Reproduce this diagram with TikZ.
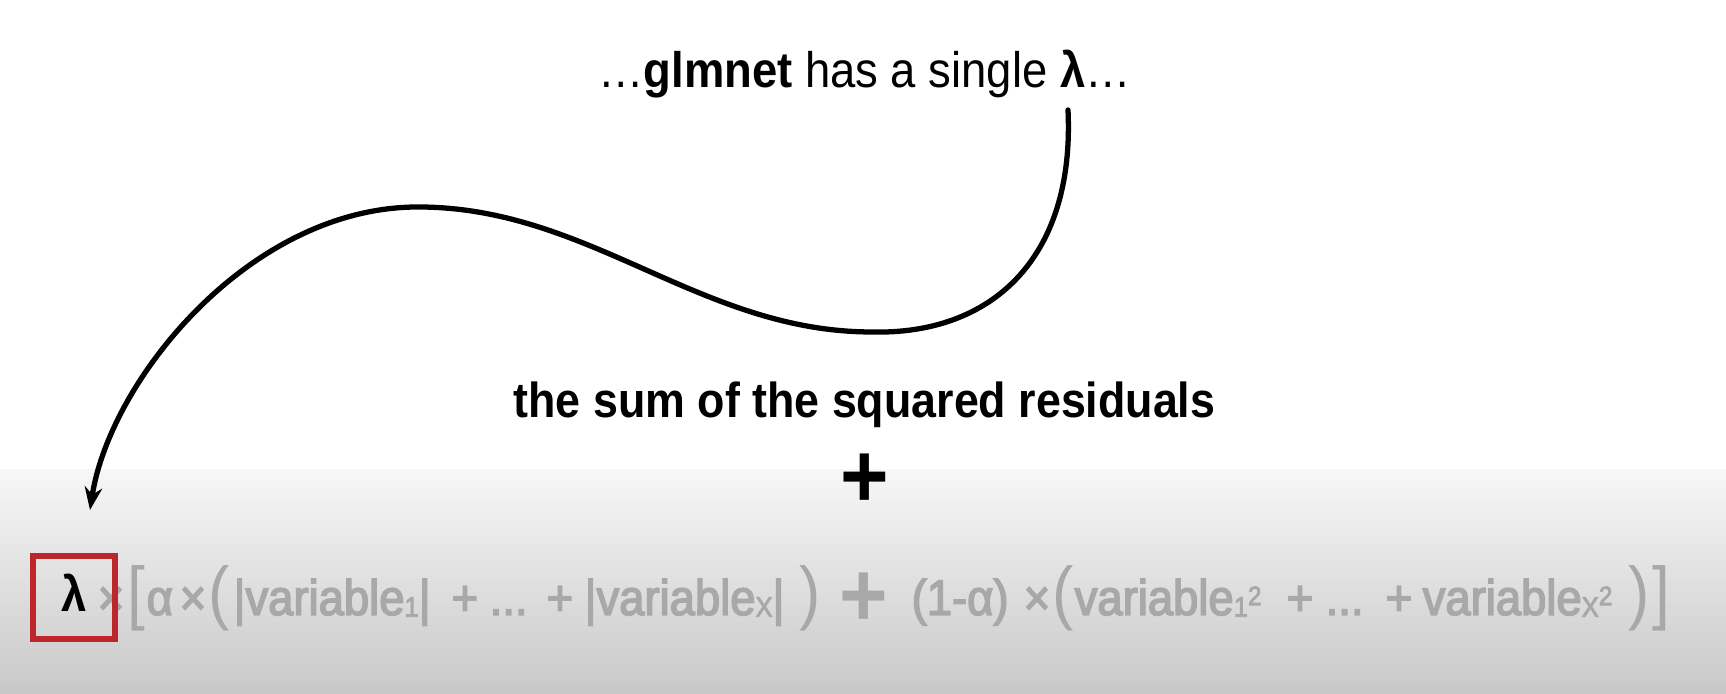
\documentclass[tikz,border=0pt]{standalone}
\usepackage{fontspec}
\usepackage{tikz}
\usetikzlibrary{arrows.meta, positioning}
\newfontfamily\slidefont[FakeStretch=0.91]{Liberation Sans}
\newfontfamily\termfont[FakeStretch=0.91,FakeBold=3]{Liberation Sans}
\definecolor{termgray}{HTML}{A8A8A8}
\definecolor{boxred}{HTML}{BD262B}
\definecolor{bgtop}{HTML}{F7F7F7}
\definecolor{bgbottom}{HTML}{C8C8C8}
\newcommand\lowidx[1]{\raisebox{-0.5pt}{\fontsize{8pt}{9pt}\selectfont #1}}
\newcommand\highidx[1]{\raisebox{2.8pt}{\fontsize{7.6pt}{9pt}\selectfont #1}}
\tikzset{
  headline/.style={font=\slidefont\fontsize{14.2pt}{17pt}\selectfont, inner sep=0pt, anchor=base},
  term/.style={font=\termfont\fontsize{14.2pt}{17pt}\selectfont, text=termgray, inner sep=0pt, anchor=base west},
  fence/.style={term, font=\slidefont\fontsize{20pt}{24pt}\selectfont},
  bigplus/.style={font=\slidefont\bfseries\fontsize{26pt}{30pt}\selectfont, inner sep=0pt},
  connector/.style={-{Stealth[length=6.5pt,width=5pt]}, line width=1.5pt, line cap=round}
}
\begin{document}
\begin{tikzpicture}
  \useasboundingbox (0,0) rectangle (17.26,6.94);
  % grey band behind the formula
  \shade[top color=bgtop, bottom color=bgbottom] (0,0) rectangle (17.26,2.24);

  \node[headline] (title) at (8.645,6.06) {\dots\textbf{glmnet} has a single \textbf{λ}\dots};
  \node[headline, font=\slidefont\bfseries\fontsize{14pt}{17pt}\selectfont] (ssr) at (8.645,2.76) {the sum of the squared residuals};
  \node[bigplus] (plusTop) at (8.645,2.13) {+};

  % penalty term
  \node[term] (timesA) at (0.97,0.79) {×};
  \node[fence] (brkL) at (1.27,0.77) {[};
  \node[term] (alpha) at (1.46,0.79) {α};
  \node[term] (timesB) at (1.79,0.79) {×};
  \node[fence] (parA) at (2.08,0.77) {(};
  \node[term] (absOne) at (2.33,0.79) {|variable\lowidx{1}|};
  \node[term] (plusA) at (4.51,0.79) {+};
  \node[term] (dotsA) at (4.89,0.79) {...};
  \node[term] (plusB) at (5.46,0.79) {+};
  \node[term] (absX) at (5.84,0.79) {|variable\lowidx{X}|};
  \node[fence] (parAr) at (7.99,0.77) {)};
  \node[bigplus, text=termgray] (plusMid) at (8.64,0.94) {+};
  \node[term] (oneMinus) at (9.11,0.79) {(1-α)};
  \node[term] (timesC) at (10.23,0.79) {×};
  \node[fence] (parB) at (10.52,0.77) {(};
  \node[term] (sqOne) at (10.74,0.79) {variable\lowidx{1}\highidx{2}};
  \node[term] (plusC) at (12.86,0.79) {+};
  \node[term] (dotsB) at (13.25,0.79) {...};
  \node[term] (plusD) at (13.85,0.79) {+};
  \node[term] (sqX) at (14.22,0.79) {variable\lowidx{X}\highidx{2}};
  \node[fence] (parBr) at (16.28,0.77) {)};
  \node[fence] (brkR) at (16.52,0.77) {]};

  % boxed lambda
  \node[headline, font=\slidefont\bfseries\fontsize{14.2pt}{17pt}\selectfont] (lam) at (0.74,0.82) {λ};
  \draw[boxred, line width=1.7pt] (0.33,0.55) rectangle (1.15,1.38);

  % swoosh from the title down to lambda
  \coordinate (from) at (10.68,5.84);
  \coordinate (to) at (0.90,1.84);
  \draw[connector] (from) .. controls (10.75,4.34) and (9.90,3.59) .. (8.72,3.62)
    .. controls (7.00,3.62) and (5.90,4.87) .. (4.18,4.87)
    .. controls (2.50,4.87) and (1.10,3.14) .. (to);
\end{tikzpicture}
\end{document}
